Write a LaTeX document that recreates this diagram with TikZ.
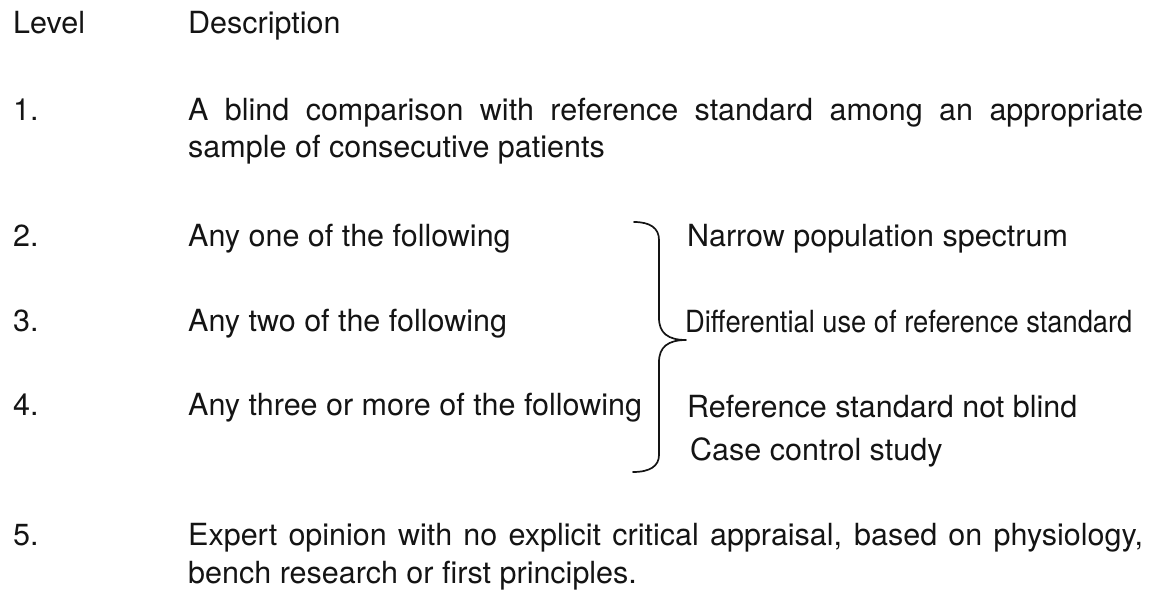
\documentclass[tikz,border=0pt]{standalone}
\usepackage{fontspec}
\setmainfont{TeX Gyre Heros}
\usepackage{graphicx}
\begin{document}
\begin{tikzpicture}[x=1pt,y=-1pt,
  txt/.style={anchor=base west,inner sep=0pt,text=black!92,
    font=\fontsize{30.5}{37.5}\selectfont},
  bracepath/.style={line width=1.7pt,draw=black!92,line cap=round,line join=round}]
\useasboundingbox (0,0) rectangle (1155,597);

% column headings
\node[txt] (lvlhead) at (13,33) {Level};
\node[txt] (deschead) at (188,33) {Description};

% level 1
\node[txt] (n1) at (13,120) {1.};
\node[txt] (d1a) at (188,120) {\makebox[955pt][s]{A blind comparison with reference standard among an appropriate}};
\node[txt] (d1b) at (188,157) {sample of consecutive patients};

% levels 2--4
\node[txt] (n2) at (13,246) {2.};
\node[txt] (d2) at (188,246) {Any one of the following};
\node[txt] (n3) at (13,331) {3.};
\node[txt] (d3) at (188,331) {Any two of the following};
\node[txt] (n4) at (13,415) {4.};
\node[txt] (d4) at (188,415) {Any three or more of the following};

% criteria grouped by the brace
\node[txt] (c1) at (687,246) {Narrow population spectrum};
\node[txt] (c2) at (685,332) {\scalebox{0.895}[1]{Differential use of reference standard}};
\node[txt] (c3) at (687,417) {Reference standard not blind};
\node[txt] (c4) at (690,460) {Case control study};

% brace
\draw[bracepath] (634,222) .. controls (650,222) and (659,228) .. (659,240)
  -- (659,318) .. controls (659,333) and (668,340) .. (686,340)
  .. controls (668,340) and (659,347) .. (659,362)
  -- (659,455) .. controls (659,466) and (650,472) .. (633,472);

% level 5
\node[txt] (n5) at (13,545) {5.};
\node[txt] (d5a) at (188,545) {\makebox[955pt][s]{Expert opinion with no explicit critical appraisal, based on physiology,}};
\node[txt] (d5b) at (188,583) {bench research or first principles.};
\end{tikzpicture}
\end{document}
